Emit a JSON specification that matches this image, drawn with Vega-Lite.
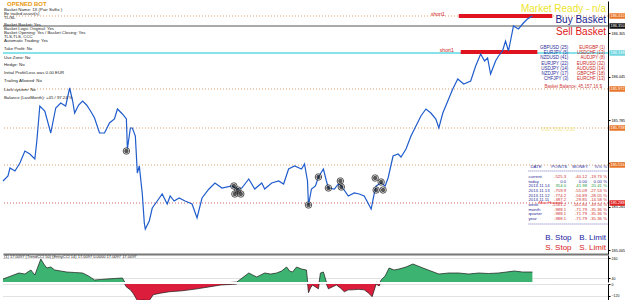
{
  "$schema": "https://vega.github.io/schema/vega-lite/v6.json",
  "padding": 0,
  "background": "white",
  "spacing": 1,
  "config": {"view": {"stroke": null}, "font": "Liberation Sans", "text": {"font": "Liberation Sans"}},
  "datasets": {
    "price": [
      {"bar":0,"price":185.42},{"bar":5,"price":185.45},{"bar":7,"price":185.498},{"bar":12,"price":185.48},{"bar":17,"price":185.528},{"bar":22,"price":185.6},{"bar":27,"price":185.582},{"bar":32,"price":185.552},{"bar":34,"price":185.66},{"bar":37,"price":185.87},{"bar":42,"price":185.84},{"bar":48,"price":185.708},{"bar":53,"price":185.858},{"bar":58,"price":185.888},{"bar":63,"price":185.87},{"bar":67,"price":185.978},{"bar":70,"price":185.9},{"bar":72,"price":185.828},{"bar":76,"price":185.876},{"bar":80,"price":185.9},{"bar":84,"price":185.876},{"bar":88,"price":185.84},{"bar":92,"price":185.798},{"bar":97,"price":185.708},{"bar":102,"price":185.708},{"bar":107,"price":185.768},{"bar":112,"price":185.792},{"bar":115,"price":185.852},{"bar":120,"price":185.822},{"bar":124,"price":185.792},{"bar":125,"price":185.612},{"bar":128,"price":185.738},{"bar":130,"price":185.738},{"bar":133,"price":185.69},{"bar":135,"price":185.468},{"bar":137,"price":185.51},{"bar":140,"price":185.342},{"bar":142,"price":185.168},{"bar":143,"price":185.132},{"bar":147,"price":185.18},{"bar":150,"price":185.258},{"bar":155,"price":185.3},{"bar":160,"price":185.342},{"bar":165,"price":185.282},{"bar":168,"price":185.33},{"bar":172,"price":185.3},{"bar":177,"price":185.318},{"bar":183,"price":185.3},{"bar":190,"price":185.282},{"bar":195,"price":185.198},{"bar":200,"price":185.318},{"bar":207,"price":185.372},{"bar":213,"price":185.408},{"bar":220,"price":185.378},{"bar":230,"price":185.39},{"bar":235,"price":185.372},{"bar":240,"price":185.378},{"bar":247,"price":185.432},{"bar":253,"price":185.372},{"bar":260,"price":185.408},{"bar":263,"price":185.372},{"bar":270,"price":185.408},{"bar":277,"price":185.42},{"bar":282,"price":185.402},{"bar":287,"price":185.492},{"bar":293,"price":185.51},{"bar":300,"price":185.492},{"bar":303,"price":185.522},{"bar":306,"price":185.42},{"bar":307,"price":185.276},{"bar":310,"price":185.372},{"bar":314,"price":185.39},{"bar":317,"price":185.444},{"bar":322,"price":185.492},{"bar":325,"price":185.42},{"bar":327,"price":185.378},{"bar":333,"price":185.372},{"bar":337,"price":185.402},{"bar":340,"price":185.39},{"bar":347,"price":185.33},{"bar":353,"price":185.348},{"bar":358,"price":185.342},{"bar":363,"price":185.33},{"bar":370,"price":185.252},{"bar":373,"price":185.342},{"bar":375,"price":185.39},{"bar":380,"price":185.408},{"bar":384,"price":185.39},{"bar":387,"price":185.438},{"bar":392,"price":185.57},{"bar":397,"price":185.582},{"bar":400,"price":185.564},{"bar":405,"price":185.612},{"bar":410,"price":185.69},{"bar":415,"price":185.75},{"bar":420,"price":185.81},{"bar":425,"price":185.852},{"bar":430,"price":185.828},{"bar":435,"price":185.792},{"bar":438,"price":185.738},{"bar":442,"price":185.828},{"bar":447,"price":185.9},{"bar":452,"price":185.972},{"bar":457,"price":186.032},{"bar":463,"price":186.002},{"bar":470,"price":186.02},{"bar":475,"price":186.11},{"bar":480,"price":186.182},{"bar":484,"price":186.14},{"bar":487,"price":186.158},{"bar":490,"price":186.062},{"bar":495,"price":186.14},{"bar":498,"price":186.17},{"bar":502,"price":186.2},{"bar":505,"price":186.26},{"bar":508,"price":186.2},{"bar":513,"price":186.35},{"bar":518,"price":186.332},{"bar":523,"price":186.368},{"bar":527,"price":186.392},{"bar":532,"price":186.41}
    ],
    "trades": [
      {"bar":124,"price":185.6},{"bar":232,"price":185.39},{"bar":236,"price":185.366},{"bar":239,"price":185.342},{"bar":233,"price":185.342},{"bar":307,"price":185.276},{"bar":317,"price":185.444},{"bar":327,"price":185.378},{"bar":339,"price":185.42},{"bar":340,"price":185.384},{"bar":374,"price":185.438},{"bar":375,"price":185.366},{"bar":382,"price":185.366},{"bar":380,"price":185.414}
    ],
    "levels": [
      {"price":186.41,"kind":"level"},{"price":185.972,"kind":"level"},{"price":185.738,"kind":"level"},{"price":185.516,"kind":"level"},{"price":186.35,"kind":"basket"},{"price":186.188,"kind":"entry"},{"price":185.288,"kind":"hunted"}
    ],
    "osc": [
      {"bar":0,"v":30},{"bar":8,"v":60},{"bar":16,"v":90},{"bar":22,"v":80},{"bar":28,"v":120},{"bar":32,"v":70},{"bar":35,"v":150},{"bar":38,"v":230},{"bar":41,"v":180},{"bar":44,"v":140},{"bar":48,"v":150},{"bar":52,"v":120},{"bar":58,"v":110},{"bar":64,"v":100},{"bar":72,"v":95},{"bar":80,"v":90},{"bar":86,"v":60},{"bar":92,"v":20},{"bar":98,"v":25},{"bar":104,"v":30},{"bar":112,"v":35},{"bar":120,"v":40},{"bar":124,"v":-30},{"bar":128,"v":-60},{"bar":131,"v":-100},{"bar":135,"v":-170},{"bar":141,"v":-165},{"bar":147,"v":-170},{"bar":151,"v":-110},{"bar":158,"v":-95},{"bar":167,"v":-80},{"bar":180,"v":-70},{"bar":195,"v":-50},{"bar":207,"v":-30},{"bar":219,"v":-10},{"bar":228,"v":-5},{"bar":235,"v":0},{"bar":239,"v":30},{"bar":243,"v":60},{"bar":247,"v":90},{"bar":251,"v":70},{"bar":255,"v":50},{"bar":259,"v":70},{"bar":263,"v":90},{"bar":269,"v":80},{"bar":275,"v":90},{"bar":280,"v":110},{"bar":285,"v":150},{"bar":288,"v":110},{"bar":291,"v":100},{"bar":295,"v":150},{"bar":300,"v":130},{"bar":305,"v":120},{"bar":307,"v":-90},{"bar":309,"v":-40},{"bar":311,"v":-10},{"bar":314,"v":-30},{"bar":317,"v":-50},{"bar":319,"v":90},{"bar":322,"v":100},{"bar":325,"v":0},{"bar":327,"v":-50},{"bar":331,"v":-30},{"bar":335,"v":-10},{"bar":339,"v":-40},{"bar":343,"v":-80},{"bar":347,"v":-60},{"bar":351,"v":-60},{"bar":357,"v":-55},{"bar":363,"v":-60},{"bar":367,"v":-90},{"bar":371,"v":-130},{"bar":375,"v":0},{"bar":378,"v":-20},{"bar":380,"v":20},{"bar":384,"v":60},{"bar":388,"v":140},{"bar":393,"v":120},{"bar":398,"v":130},{"bar":405,"v":150},{"bar":412,"v":180},{"bar":417,"v":160},{"bar":422,"v":140},{"bar":430,"v":110},{"bar":438,"v":80},{"bar":448,"v":90},{"bar":458,"v":90},{"bar":468,"v":80},{"bar":478,"v":90},{"bar":488,"v":85},{"bar":498,"v":90},{"bar":506,"v":100},{"bar":514,"v":110},{"bar":522,"v":100},{"bar":532,"v":100}
    ]
  },
  "vconcat": [
    {
      "width": 605,
      "height": 253,
      "layer": [
        {
          "data": {"values": [{"price":186.41},{"price":185.972},{"price":185.738},{"price":185.516}]},
          "mark": {"type": "rule", "color": "#d9a070", "strokeWidth": 1, "strokeDash": [1, 2]},
          "encoding": {"y": {"field": "price", "type": "quantitative", "title": null}}
        },
        {
          "data": {"values": [{"price":185.288}]},
          "mark": {"type": "rule", "color": "#d06060", "strokeWidth": 1, "strokeDash": [1, 2]},
          "encoding": {"y": {"field": "price", "type": "quantitative", "title": null}}
        },
        {
          "data": {"values": [{"price":186.35}]},
          "mark": {"type": "rule", "color": "#555555", "strokeWidth": 1},
          "encoding": {"y": {"field": "price", "type": "quantitative", "title": null}}
        },
        {
          "data": {"values": [{"price":186.188}]},
          "mark": {"type": "rule", "color": "#86e3ea", "strokeWidth": 2},
          "encoding": {"y": {"field": "price", "type": "quantitative", "title": null}}
        },
        {
          "data": {"values": [{"start":458,"end":552,"price":186.41},{"start":460,"end":537,"price":186.194}]},
          "mark": {"type": "rule", "color": "#e0141e", "strokeWidth": 4},
          "encoding": {
            "x": {"field": "start", "type": "quantitative", "title": null},
            "x2": {"field": "end"},
            "y": {"field": "price", "type": "quantitative", "title": null}
          }
        },
        {
          "data": {"name": "price"},
          "mark": {"type": "line", "color": "#1f5ccc", "strokeWidth": 1.2},
          "encoding": {
            "x": {"field": "bar", "type": "quantitative", "scale": {"domain": [0, 608], "nice": false, "zero": false},
                  "axis": {"orient": "bottom", "labels": false, "ticks": false, "grid": false, "domainColor": "#777777", "domainWidth": 2, "title": null}},
            "y": {"field": "price", "type": "quantitative", "scale": {"domain": [184.982, 186.5], "nice": false, "zero": false},
                  "axis": {"orient": "right", "title": null, "grid": false, "format": ".3f", "labelFontSize": 3.8, "labelOverlap": false, "tickSize": 2, "labelPadding": 1, "domainColor": "#000000", "tickColor": "#000000", "labelColor": "#000000",
                           "values": [186.435,186.37,186.305,186.24,186.175,186.11,186.045,185.98,185.915,185.85,185.785,185.72,185.655,185.59,185.525,185.46,185.395,185.33,185.265,185.2,185.135,185.07,185.005]}}
          }
        },
        {
          "data": {"name": "trades"},
          "mark": {"type": "point", "shape": "circle", "filled": true, "size": 30, "color": "#111111", "stroke": "#ffffff", "strokeWidth": 1},
          "encoding": {
            "x": {"field": "bar", "type": "quantitative", "title": null},
            "y": {"field": "price", "type": "quantitative", "title": null}
          }
        },
        {
          "data": {"name": "trades"},
          "mark": {"type": "point", "shape": "circle", "filled": false, "size": 42, "color": "#111111", "strokeWidth": 1},
          "encoding": {
            "x": {"field": "bar", "type": "quantitative", "title": null},
            "y": {"field": "price", "type": "quantitative", "title": null}
          }
        },
        {
          "data": {"name": "levels"},
          "mark": {"type": "rule", "strokeWidth": 5.5},
          "encoding": {
            "x": {"datum": 609.5},
            "x2": {"datum": 628},
            "y": {"field": "price", "type": "quantitative", "title": null},
            "color": {"field": "kind", "type": "nominal", "legend": null,
                      "scale": {"domain": ["level", "basket", "entry", "hunted"], "range": ["#e8762a", "#111111", "#6fd6e0", "#e02424"]}}
          }
        },
        {
          "data": {"name": "levels"},
          "mark": {"type": "text", "color": "white", "fontSize": 3.9, "align": "left", "baseline": "middle"},
          "encoding": {
            "x": {"datum": 610.5},
            "y": {"field": "price", "type": "quantitative", "title": null},
            "text": {"field": "price", "type": "quantitative", "format": ".3f"}
          }
        },
        {
          "data": {"values": [{}]},
          "mark": {"type": "text", "text": "OPENED BOT", "color": "#e89a10", "fontWeight": "bold", "fontSize": 6, "align": "left", "baseline": "top"},
          "encoding": {"x": {"datum": 4}, "y": {"datum": 186.503}}
        },
        {
          "data": {"values": [{}]},
          "mark": {"type": "text", "text": ["Basket Name: 1X (Pair Suffix )", "Be trailed assist(s)", "TL/SL"], "color": "#1a1a1a", "fontSize": 4.3, "lineHeight": 4, "align": "left", "baseline": "top"},
          "encoding": {"x": {"datum": 1}, "y": {"datum": 186.458}}
        },
        {
          "data": {"values": [{}]},
          "mark": {"type": "text", "text": ["Basket Basket: Yes", "Basket Logic Original: Yes", "Basket Opening: Yes  /  Basket Closing: Yes", "TLS,TLS, CCC", "Automatic Trading: Yes"], "color": "#1a1a1a", "fontSize": 4.3, "lineHeight": 4, "align": "left", "baseline": "top"},
          "encoding": {"x": {"datum": 1}, "y": {"datum": 186.368}}
        },
        {
          "data": {"values": [{}]},
          "mark": {"type": "text", "text": "Take Profit: No", "color": "#1a1a1a", "fontSize": 4.3, "align": "left", "baseline": "top"},
          "encoding": {"x": {"datum": 1}, "y": {"datum": 186.224}}
        },
        {
          "data": {"values": [{}]},
          "mark": {"type": "text", "text": ["Use Zone: No", "Hedge: No"], "color": "#1a1a1a", "fontSize": 4.3, "lineHeight": 7, "align": "left", "baseline": "top"},
          "encoding": {"x": {"datum": 1}, "y": {"datum": 186.17}}
        },
        {
          "data": {"values": [{}]},
          "mark": {"type": "text", "text": ["Initial Profit/Loss was 0.00 EUR", "Trailing Allowed: No", "Lock system: No", "Balance (LastMonth): +45 / 97.24 %"], "color": "#1a1a1a", "fontSize": 4.3, "lineHeight": 8.3, "align": "left", "baseline": "top"},
          "encoding": {"x": {"datum": 1}, "y": {"datum": 186.08}}
        },
        {
          "data": {"values": [{}]},
          "mark": {"type": "text", "text": "short1", "color": "#d02020", "fontSize": 5, "align": "right", "baseline": "middle"},
          "encoding": {"x": {"datum": 444}, "y": {"datum": 186.422}}
        },
        {
          "data": {"values": [{}]},
          "mark": {"type": "text", "text": "short1", "color": "#d02020", "fontSize": 5, "align": "right", "baseline": "middle"},
          "encoding": {"x": {"datum": 453}, "y": {"datum": 186.206}}
        },
        {
          "data": {"values": [{}]},
          "mark": {"type": "text", "text": "Market Ready - n/a", "color": "#ece42a", "fontSize": 10, "align": "right", "baseline": "middle"},
          "encoding": {"x": {"datum": 606}, "y": {"datum": 186.452}}
        },
        {
          "data": {"values": [{}]},
          "mark": {"type": "text", "text": "Buy Basket", "color": "#1c1c8e", "fontSize": 10, "align": "right", "baseline": "middle"},
          "encoding": {"x": {"datum": 606}, "y": {"datum": 186.386}}
        },
        {
          "data": {"values": [{}]},
          "mark": {"type": "text", "text": "Sell Basket", "color": "#e01818", "fontSize": 10, "align": "right", "baseline": "middle"},
          "encoding": {"x": {"datum": 606}, "y": {"datum": 186.314}}
        },
        {
          "data": {"values": [{}]},
          "mark": {"type": "text", "text": ["GBPUSD (25)", "EURJPY (5)", "NZDUSD (41)", "EURJPY (22)", "USDJPY (14)", "NZDJPY (17)", "CHFJPY (3)"], "color": "#2a2a9a", "fontSize": 4.5, "lineHeight": 5.2, "align": "right", "baseline": "top"},
          "encoding": {"x": {"datum": 568}, "y": {"datum": 186.236}}
        },
        {
          "data": {"values": [{}]},
          "mark": {"type": "text", "text": ["EURGBP (1)", "USDCHF (13)", "AUDJPY (8)", "EURUSD (32)", "AUDUSD (14)", "GBPCHF (18)", "EURCHF (13)"], "color": "#c82424", "fontSize": 4.5, "lineHeight": 5.2, "align": "right", "baseline": "top"},
          "encoding": {"x": {"datum": 605}, "y": {"datum": 186.236}}
        },
        {
          "data": {"values": [{}]},
          "mark": {"type": "text", "text": "Basket Balance: 45,157.16 $", "color": "#d04040", "fontSize": 4.5, "align": "right", "baseline": "middle"},
          "encoding": {"x": {"datum": 602}, "y": {"datum": 185.984}}
        },
        {
          "data": {"values": [{}]},
          "mark": {"type": "text", "text": "0.00 / 0.00 / 0.00", "color": "#eee67a", "fontSize": 4.5, "align": "left", "baseline": "middle"},
          "encoding": {"x": {"datum": 541}, "y": {"datum": 185.726}}
        },
        {
          "data": {"values": [{"price":185.48},{"price":185.162}]},
          "mark": {"type": "rule", "color": "#5050b0", "strokeWidth": 0.8, "strokeDash": [1, 1]},
          "encoding": {"x": {"datum": 528}, "x2": {"datum": 608}, "y": {"field": "price", "type": "quantitative", "title": null}}
        },
        {
          "data": {"values": [{}]},
          "mark": {"type": "text", "text": "DATE", "color": "#2a2a9a", "fontSize": 4.3, "align": "left", "baseline": "middle"},
          "encoding": {"x": {"datum": 530}, "y": {"datum": 185.504}}
        },
        {
          "data": {"values": [{}]},
          "mark": {"type": "text", "text": "POINTS", "color": "#2a2a9a", "fontSize": 4.3, "align": "right", "baseline": "middle"},
          "encoding": {"x": {"datum": 567}, "y": {"datum": 185.504}}
        },
        {
          "data": {"values": [{}]},
          "mark": {"type": "text", "text": "MONEY", "color": "#2a2a9a", "fontSize": 4.3, "align": "right", "baseline": "middle"},
          "encoding": {"x": {"datum": 588}, "y": {"datum": 185.504}}
        },
        {
          "data": {"values": [{}]},
          "mark": {"type": "text", "text": "%% %", "color": "#2a2a9a", "fontSize": 4.3, "align": "right", "baseline": "middle"},
          "encoding": {"x": {"datum": 607}, "y": {"datum": 185.504}}
        },
        {
          "data": {"values": [{}]},
          "mark": {"type": "text", "text": ["current", "today", "2013.11.14", "2013.11.13", "2013.11.12", "2013.11.11", "week", "month", "quarter", "year"], "color": "#2a2a9a", "fontSize": 4.3, "lineHeight": 4.65, "align": "left", "baseline": "top"},
          "encoding": {"x": {"datum": 528}, "y": {"datum": 185.456}}
        },
        {
          "data": {"values": [{}]},
          "mark": {"type": "text", "text": "-525.3", "color": "#d03030", "fontSize": 4.3, "align": "right", "baseline": "top"},
          "encoding": {"x": {"datum": 566}, "y": {"datum": 185.456}}
        },
        {
          "data": {"values": [{}]},
          "mark": {"type": "text", "text": "0.0", "color": "#2a2a9a", "fontSize": 4.3, "align": "right", "baseline": "top"},
          "encoding": {"x": {"datum": 566}, "y": {"datum": 185.428}}
        },
        {
          "data": {"values": [{}]},
          "mark": {"type": "text", "text": "354.0", "color": "#2a9a3a", "fontSize": 4.3, "align": "right", "baseline": "top"},
          "encoding": {"x": {"datum": 566}, "y": {"datum": 185.4}}
        },
        {
          "data": {"values": [{}]},
          "mark": {"type": "text", "text": ["-759.9", "-774.2", "-387.2", "-1561.2", "-988.1", "-988.1", "-988.1"], "color": "#d03030", "fontSize": 4.3, "lineHeight": 4.65, "align": "right", "baseline": "top"},
          "encoding": {"x": {"datum": 566}, "y": {"datum": 185.372}}
        },
        {
          "data": {"values": [{}]},
          "mark": {"type": "text", "text": "-40.12", "color": "#d03030", "fontSize": 4.3, "align": "right", "baseline": "top"},
          "encoding": {"x": {"datum": 587}, "y": {"datum": 185.456}}
        },
        {
          "data": {"values": [{}]},
          "mark": {"type": "text", "text": "0.00", "color": "#2a2a9a", "fontSize": 4.3, "align": "right", "baseline": "top"},
          "encoding": {"x": {"datum": 587}, "y": {"datum": 185.428}}
        },
        {
          "data": {"values": [{}]},
          "mark": {"type": "text", "text": "41.98", "color": "#2a9a3a", "fontSize": 4.3, "align": "right", "baseline": "top"},
          "encoding": {"x": {"datum": 587}, "y": {"datum": 185.4}}
        },
        {
          "data": {"values": [{}]},
          "mark": {"type": "text", "text": ["-55.09", "-56.89", "-29.85", "-161.84", "-71.79", "-71.79", "-71.79"], "color": "#d03030", "fontSize": 4.3, "lineHeight": 4.65, "align": "right", "baseline": "top"},
          "encoding": {"x": {"datum": 587}, "y": {"datum": 185.372}}
        },
        {
          "data": {"values": [{}]},
          "mark": {"type": "text", "text": "-19.73 %", "color": "#d03030", "fontSize": 4.3, "align": "right", "baseline": "top"},
          "encoding": {"x": {"datum": 607}, "y": {"datum": 185.456}}
        },
        {
          "data": {"values": [{}]},
          "mark": {"type": "text", "text": "0.00 %", "color": "#2a2a9a", "fontSize": 4.3, "align": "right", "baseline": "top"},
          "encoding": {"x": {"datum": 607}, "y": {"datum": 185.428}}
        },
        {
          "data": {"values": [{}]},
          "mark": {"type": "text", "text": "20.41 %", "color": "#2a9a3a", "fontSize": 4.3, "align": "right", "baseline": "top"},
          "encoding": {"x": {"datum": 607}, "y": {"datum": 185.4}}
        },
        {
          "data": {"values": [{}]},
          "mark": {"type": "text", "text": ["-27.53 %", "-28.05 %", "-14.58 %", "-49.56 %", "-35.36 %", "-35.36 %", "-35.36 %"], "color": "#d03030", "fontSize": 4.3, "lineHeight": 4.65, "align": "right", "baseline": "top"},
          "encoding": {"x": {"datum": 607}, "y": {"datum": 185.372}}
        },
        {
          "data": {"values": [{}]},
          "mark": {"type": "text", "text": "Max Hunted", "color": "#e02020", "fontSize": 4.3, "align": "center", "baseline": "middle"},
          "encoding": {"x": {"datum": 550}, "y": {"datum": 185.288}}
        },
        {
          "data": {"values": [{}]},
          "mark": {"type": "text", "text": "B. Stop", "color": "#2020a0", "fontSize": 8, "align": "left", "baseline": "middle"},
          "encoding": {"x": {"datum": 545}, "y": {"datum": 185.078}}
        },
        {
          "data": {"values": [{}]},
          "mark": {"type": "text", "text": "B. Limit", "color": "#2020a0", "fontSize": 8, "align": "right", "baseline": "middle"},
          "encoding": {"x": {"datum": 606}, "y": {"datum": 185.078}}
        },
        {
          "data": {"values": [{}]},
          "mark": {"type": "text", "text": "S. Stop", "color": "#d82020", "fontSize": 8, "align": "left", "baseline": "middle"},
          "encoding": {"x": {"datum": 545}, "y": {"datum": 185.018}}
        },
        {
          "data": {"values": [{}]},
          "mark": {"type": "text", "text": "S. Limit", "color": "#d82020", "fontSize": 8, "align": "right", "baseline": "middle"},
          "encoding": {"x": {"datum": 606}, "y": {"datum": 185.018}}
        }
      ]
    },
    {
      "spacing": 0,
      "vconcat": [
        {
          "width": 605,
          "height": 27,
          "layer": [
            {
              "data": {"name": "osc"},
              "mark": {"type": "area", "color": "#3cb371", "clip": true, "opacity": 1},
              "encoding": {
                "x": {"field": "bar", "type": "quantitative", "scale": {"domain": [0, 608], "nice": false, "zero": false}, "axis": null},
                "y": {"field": "v", "type": "quantitative", "scale": {"domain": [0, 270], "nice": false, "zero": false},
                      "axis": {"orient": "right", "title": null, "values": [40, 80, 120, 160, 200, 240], "labelFontSize": 3.5, "labelOverlap": false, "tickSize": 2, "labelPadding": 1, "domainColor": "#000000", "tickColor": "#000000", "labelColor": "#000000", "grid": true, "gridDash": [1, 1], "gridColor": "#c4c4c4"}},
                "y2": {"datum": 0}
              }
            },
            {
              "data": {"name": "osc"},
              "mark": {"type": "line", "color": "#1a1a1a", "strokeWidth": 0.7, "clip": true},
              "encoding": {
                "x": {"field": "bar", "type": "quantitative"},
                "y": {"field": "v", "type": "quantitative"}
              }
            },
            {
              "data": {"values": [{}]},
              "mark": {"type": "text", "text": "(1) 17.0097  (TrendCCI 50)  (EntryCCI 14)  17.0097  0.0000  17.0097  17.0097", "color": "#222222", "fontSize": 4, "align": "left", "baseline": "top"},
              "encoding": {"x": {"datum": 1}, "y": {"datum": 266}}
            }
          ]
        },
        {
          "width": 605,
          "height": 17,
          "layer": [
            {
              "data": {"name": "osc"},
              "mark": {"type": "area", "color": "#dc1e3c", "clip": true, "opacity": 1},
              "encoding": {
                "x": {"field": "bar", "type": "quantitative", "scale": {"domain": [0, 608], "nice": false, "zero": false}, "axis": null},
                "y": {"field": "v", "type": "quantitative", "scale": {"domain": [-175, 0], "nice": false, "zero": false},
                      "axis": {"orient": "right", "title": null, "values": [0, -40, -80, -120], "labelFontSize": 3.5, "labelOverlap": false, "tickSize": 2, "labelPadding": 1, "domainColor": "#000000", "tickColor": "#000000", "labelColor": "#000000", "grid": true, "gridDash": [1, 1], "gridColor": "#c4c4c4"}},
                "y2": {"datum": 0}
              }
            },
            {
              "data": {"name": "osc"},
              "mark": {"type": "line", "color": "#1a1a1a", "strokeWidth": 0.7, "clip": true},
              "encoding": {
                "x": {"field": "bar", "type": "quantitative"},
                "y": {"field": "v", "type": "quantitative"}
              }
            }
          ]
        }
      ]
    }
  ]
}
